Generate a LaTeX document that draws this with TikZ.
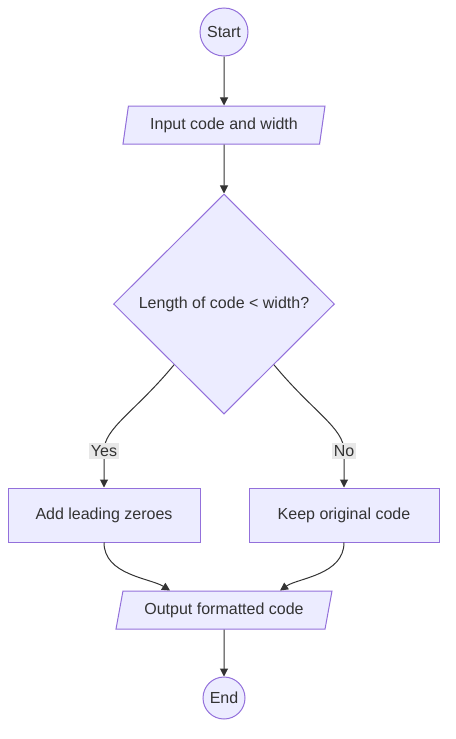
\documentclass[tikz,border=0pt]{standalone}
\usepackage{fontspec}
\setmainfont{Liberation Sans}
\usetikzlibrary{shapes.geometric,arrows.meta,calc}
\definecolor{nodefill}{HTML}{ECECFF}
\definecolor{nodeline}{HTML}{9370DB}
\definecolor{txt}{HTML}{333333}
\definecolor{labbg}{HTML}{E8E8E8}
\begin{document}
\begin{tikzpicture}[x=0.75pt,y=-0.75pt,
  every node/.style={font=\fontsize{12}{14}\selectfont, text=txt},
  base/.style={draw=nodeline, fill=nodefill, line width=0.75pt, inner sep=0pt},
  term/.style={base, circle},
  proc/.style={base, rectangle, minimum height=40.5pt},
  io/.style={base, trapezium, trapezium stretches body, minimum height=28.5pt},
  dec/.style={base, diamond, minimum width=165.75pt, minimum height=165pt},
  edge/.style={draw=txt, line width=0.75pt, -{Triangle[length=6pt,width=6pt]}},
  lab/.style={fill=labbg, inner xsep=1.5pt, inner ysep=2pt}
]
\useasboundingbox (0,0) rectangle (455,739);
\node[term, minimum size=36pt] (start) at (224,32) {Start};
\node[io, trapezium left angle=70, trapezium right angle=110, minimum width=151.5pt] (in) at (224,125) {Input code and width};
\node[dec] (d) at (224,304) {Length of code < width?};
\node[proc, minimum width=144pt] (yes) at (104,515) {Add leading zeroes};
\node[proc, minimum width=142.5pt] (no) at (344,515) {Keep original code};
\node[io, trapezium left angle=65, trapezium right angle=115, minimum width=162pt] (out) at (224,610) {Output formatted code};
\node[term, minimum size=31.5pt] (end) at (224,698) {End};

\coordinate (yl) at (104,451);
\coordinate (nl) at (344,451);

\draw[edge] ($(d.west)!0.55!(d.south)$) .. controls (135,412) and (104,428) .. (yl) -- (yes.north);
\draw[edge] ($(d.east)!0.55!(d.south)$) .. controls (313,412) and (344,428) .. (nl) -- (no.north);
\draw[edge] (start) -- (in);
\draw[edge] (in) -- (d);
\draw[edge] (yes.south) .. controls (104,575) and (150,578) .. ($(out.north)+(-54,0)$);
\draw[edge] (no.south) .. controls (344,575) and (298,578) .. ($(out.north)+(56,0)$);
\draw[edge] (out) -- (end);

\node[lab] (ylab) at (yl) {Yes};
\node[lab] (nlab) at (nl) {No};
\end{tikzpicture}
\end{document}
